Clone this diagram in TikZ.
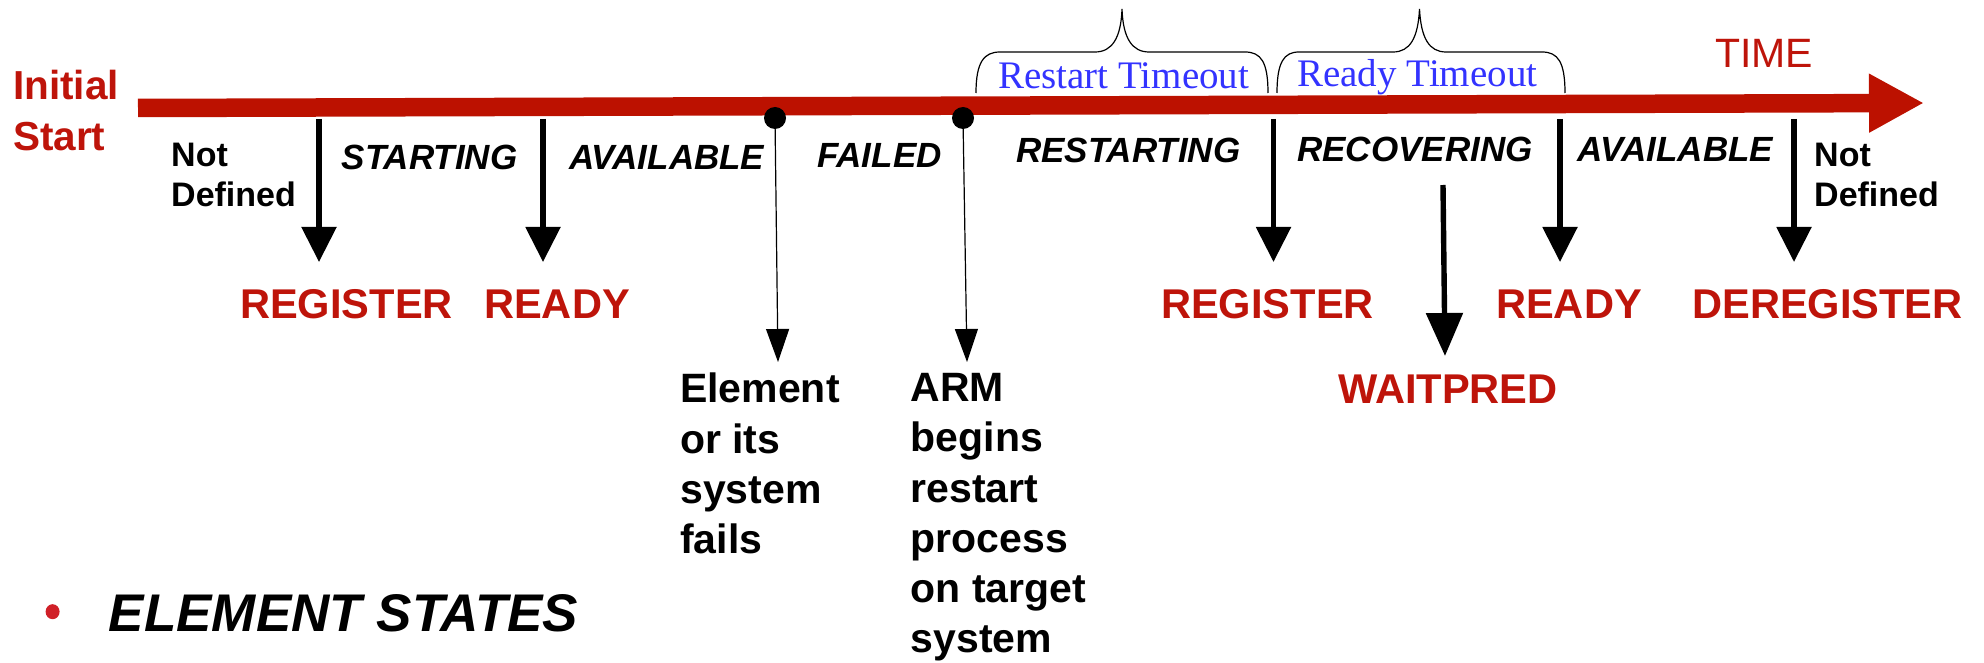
\documentclass[tikz,border=0pt]{standalone}
\usepackage{fontspec}
\setmainfont{Liberation Sans}
\newfontfamily\serifx{Liberation Serif}
\usetikzlibrary{arrows.meta,shapes.geometric}
\definecolor{barred}{RGB}{188,17,0}
\definecolor{txtred}{RGB}{190,20,10}
\definecolor{bulred}{RGB}{208,32,40}
\definecolor{tblue}{RGB}{51,51,255}
\tikzset{
  statelab/.style={anchor=base west, inner sep=0pt, font=\fontsize{35}{42}\selectfont\bfseries\itshape},
  eventlab/.style={anchor=base west, inner sep=0pt, text=txtred, font=\fontsize{41.6}{49}\selectfont\bfseries},
  undef/.style={anchor=north west, inner sep=0pt, align=left, font=\fontsize{34}{40}\selectfont\bfseries},
  notelab/.style={anchor=north west, inner sep=0pt, align=left, font=\fontsize{41}{50.3}\selectfont\bfseries},
  timeoutlab/.style={anchor=base west, inner sep=0pt, text=tblue, font=\fontsize{39}{45}\selectfont\serifx},
  bigarrow/.style={line width=5.4pt, -{Triangle[width=34pt,length=35pt]}},
  waitarrow/.style={line width=5.4pt, -{Triangle[width=36pt,length=43pt]}},
  thinarrow/.style={line width=1.2pt, -{Triangle[width=23pt,length=33pt]}},
  bracex/.style={line width=1.2pt},
  evdot/.style={circle, fill=black, inner sep=0pt, minimum size=22pt}
}
\begin{document}
\begin{tikzpicture}[x=1pt,y=-1pt]
\useasboundingbox (0,0) rectangle (1984,663);

% timeline
\coordinate (tstart) at (138,108);
\coordinate (tend) at (1924,103);
\draw[barred, line width=18.5pt, -{Triangle[width=55pt,length=55pt]}] (tstart) -- (tend);

\node[anchor=north west, inner sep=0pt, align=left, text=txtred, font=\fontsize{40.5}{51}\selectfont\bfseries] (init) at (13,70) {Initial\\Start};
\node[anchor=base west, inner sep=0pt, text=txtred, font=\fontsize{41}{49}\selectfont] (time) at (1715,68) {TIME};

% braces
\draw[bracex] (976,93) .. controls (976,62) and (984,52) .. (1000,52) -- (1095,52) .. controls (1112,52) and (1121,38) .. (1122,9)
  .. controls (1123,38) and (1132,52) .. (1149,52) -- (1245,52) .. controls (1261,52) and (1268,62) .. (1268,93);
\draw[bracex] (1277,93) .. controls (1277,62) and (1284,52) .. (1299,52) -- (1393,52) .. controls (1410,52) and (1418,38) .. (1419.5,9)
  .. controls (1421,38) and (1429,52) .. (1446,52) -- (1542,52) .. controls (1558,52) and (1565,62) .. (1565,93);
\node[timeoutlab] (rto) at (998,89) {Restart Timeout};
\node[timeoutlab] (yto) at (1297,87) {Ready Timeout};

% state labels
\node[undef] (nd1) at (171,143) {Not\\Defined};
\node[statelab] (s1) at (341.5,170) {STARTING};
\node[statelab] (s2) at (569,170) {AVAILABLE};
\node[statelab] (s3) at (817,168) {FAILED};
\node[statelab] (s4) at (1016,163) {RESTARTING};
\node[statelab] (s5) at (1297,162) {RECOVERING};
\node[statelab] (s6) at (1577.7,162) {AVAILABLE};
\node[undef] (nd2) at (1814,143) {Not\\Defined};

% events
\node[eventlab] (e1) at (240,318) {REGISTER};
\node[eventlab] (e2) at (484,318) {READY};
\node[eventlab] (e3) at (1161,318) {REGISTER};
\node[eventlab] (e4) at (1338,403) {WAITPRED};
\node[eventlab] (e5) at (1496,318) {READY};
\node[eventlab] (e6) at (1692,318) {DEREGISTER};

% event arrows
\coordinate (a1s) at (319,119);   \coordinate (a1e) at (319,262);
\coordinate (a2s) at (543,119);   \coordinate (a2e) at (543,262);
\coordinate (a3s) at (1273.5,119);\coordinate (a3e) at (1273.5,262);
\coordinate (a4s) at (1443,185);  \coordinate (a4e) at (1445,356);
\coordinate (a5s) at (1560,119);  \coordinate (a5e) at (1560,262);
\coordinate (a6s) at (1794,119);  \coordinate (a6e) at (1794,262);
\draw[bigarrow] (a1s) -- (a1e);
\draw[bigarrow] (a2s) -- (a2e);
\draw[bigarrow] (a3s) -- (a3e);
\draw[waitarrow] (a4s) -- (a4e);
\draw[bigarrow] (a5s) -- (a5e);
\draw[bigarrow] (a6s) -- (a6e);

% failure points
\node[evdot] (d1) at (775,118) {};
\node[evdot] (d2) at (963,118) {};
\coordinate (d1e) at (778,362);
\coordinate (d2e) at (967,362);
\draw[thinarrow] (d1.center) -- (d1e);
\draw[thinarrow] (d2.center) -- (d2e);
\node[notelab] (n1) at (680,373) {Element\\or its\\system\\fails};
\node[notelab] (n2) at (910.5,373) {ARM\\begins\\restart\\process\\on target\\system};

% bullet
\node[ellipse, fill=bulred, inner sep=0pt, minimum width=14pt, minimum height=15pt] (bul) at (52.6,611.7) {};
\node[anchor=base west, inner sep=0pt, font=\fontsize{53}{60}\selectfont\bfseries\itshape] (es) at (108.7,631.7) {ELEMENT STATES};
\end{tikzpicture}
\end{document}
